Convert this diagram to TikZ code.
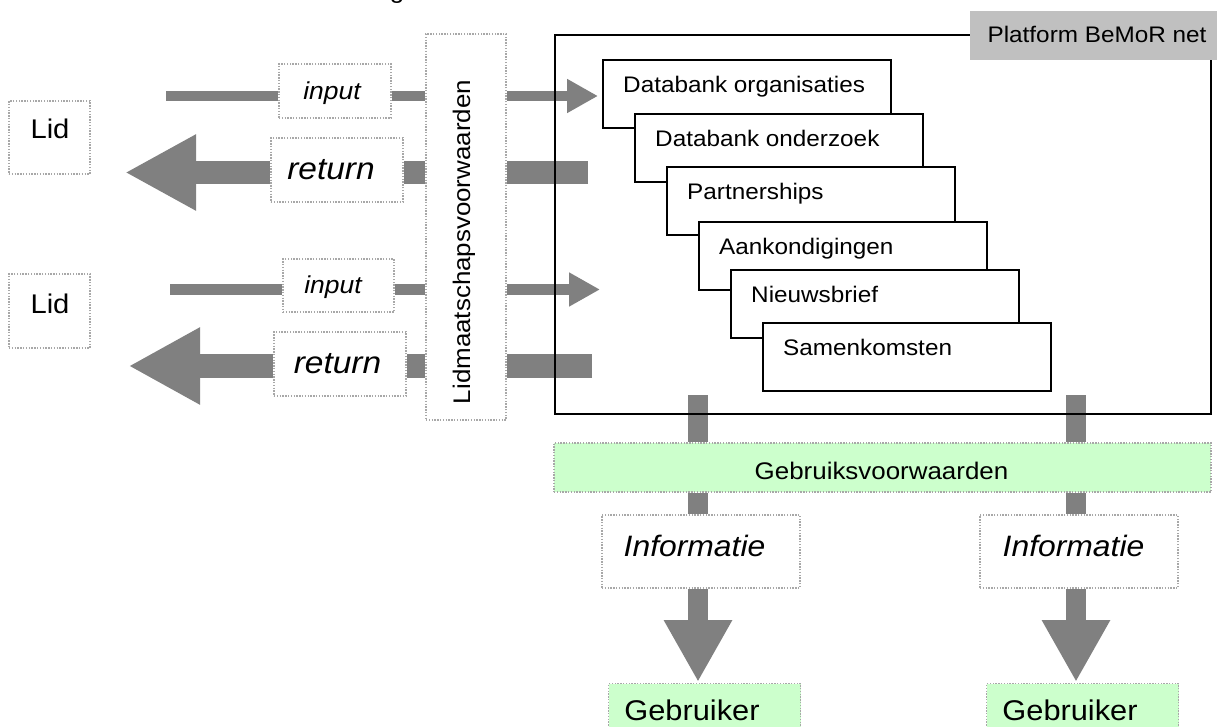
\documentclass[tikz,border=0pt]{standalone}
\usepackage{fontspec}
\setmainfont{Liberation Sans}[FakeStretch=1.08]
\usetikzlibrary{arrows.meta,calc}

\definecolor{flow}{HTML}{808080}
\definecolor{dotline}{HTML}{A8A8A8}
\definecolor{paleg}{HTML}{CCFFCC}
\definecolor{tagfill}{HTML}{C0C0C0}

\tikzset{
  dotbox/.style={draw=dotline, line width=1.4pt, dash pattern=on 1.4pt off 1.4pt,
                 fill=white, inner sep=0pt},
  greenbox/.style={dotbox, fill=paleg},
  module/.style={draw=black, line width=1.8pt, fill=white, inner sep=0pt,
                 minimum width=288pt, minimum height=68pt, anchor=north west},
  lbl/.style={inner sep=0pt, anchor=base},
  modlbl/.style={inner sep=0pt, anchor=base west, font=\fontsize{22.5}{26}\selectfont},
  thinflow/.style={draw=flow, line width=10.5pt},
  wideflow/.style={draw=flow, line width=23.5pt},
  downflow/.style={draw=flow, line width=20.5pt},
}

\begin{document}
\begin{tikzpicture}[x=1pt, y=-1pt]
\clip (0,0) rectangle (1217,727);
\fill[white] (0,0) rectangle (1217,727);

% clipped caption fragment at the top edge
\node[lbl, font=\fontsize{24}{28}\selectfont] (cap) at (397,-1) {g};

% members
\node[dotbox, minimum width=81pt, minimum height=73pt] (lid1) at (49.5,137.5) {};
\node[lbl, font=\fontsize{27}{32}\selectfont] (lid1t) at (50,139) {Lid};
\node[dotbox, minimum width=81pt, minimum height=74pt] (lid2) at (49.5,311) {};
\node[lbl, font=\fontsize{27}{32}\selectfont] (lid2t) at (50,313) {Lid};

% membership conditions
\node[dotbox, minimum width=80pt, minimum height=386pt] (lv) at (466,227) {};
\node[lbl, rotate=90, font=\fontsize{24}{28}\selectfont] (lvt) at (470,242) {Lidmaatschapsvoorwaarden};

% input / return label boxes
\node[dotbox, minimum width=112pt, minimum height=54pt] (in1) at (335,91) {};
\node[dotbox, minimum width=132pt, minimum height=64pt] (re1) at (337,170) {};
\node[dotbox, minimum width=111pt, minimum height=53pt] (in2) at (338.5,285.5) {};
\node[dotbox, minimum width=132pt, minimum height=64pt] (re2) at (340,364) {};

% flow end points
\coordinate (i1s) at (166,96);
\coordinate (r1s) at (588,172.5);
\coordinate (r1t) at (125,172.5);
\coordinate (i2s) at (170,289.5);
\coordinate (r2s) at (592,366);
\coordinate (r2t) at (128.5,366);
\coordinate (v1) at (698,395);
\coordinate (v2) at (1076,395);

% platform modules (positions needed by the flows)
\coordinate (m1) at (602,59);

% input flows
\draw[thinflow] (i1s) -- (i1s -| in1.west);
\draw[thinflow] (in1.east |- i1s) -- (lv.west |- i1s);
\draw[thinflow, -{Triangle[length=31pt,width=32pt]}] (lv.east |- i1s) -- ($(m1 |- i1s)+(-4,0)$);

\draw[thinflow] (i2s) -- (i2s -| in2.west);
\draw[thinflow] (in2.east |- i2s) -- (lv.west |- i2s);
\draw[thinflow, -{Triangle[length=31pt,width=32pt]}] (lv.east |- i2s) -- (600,289.5);

% return flows
\draw[wideflow] (r1s) -- (r1s -| lv.east);
\draw[wideflow] (lv.west |- r1s) -- (re1.east |- r1s);
\draw[wideflow, -{Triangle[length=71pt,width=71pt]}] (re1.west |- r1s) -- (r1t);

\draw[wideflow] (r2s) -- (r2s -| lv.east);
\draw[wideflow] (lv.west |- r2s) -- (re2.east |- r2s);
\draw[wideflow, -{Triangle[length=71.5pt,width=72pt]}] (re2.west |- r2s) -- (r2t);

% label texts over the flow boxes
\node[lbl, font=\fontsize{24.5}{29}\selectfont\itshape] (in1t) at (332,100) {input};
\node[lbl, font=\fontsize{31}{36}\selectfont\itshape] (re1t) at (331,180) {return};
\node[lbl, font=\fontsize{24.5}{29}\selectfont\itshape] (in2t) at (333,293) {input};
\node[lbl, font=\fontsize{31}{36}\selectfont\itshape] (re2t) at (337.5,373) {return};

% usage conditions, information and users
\node[greenbox, minimum width=657pt, minimum height=49pt] (gv) at (882.5,467.5) {};
\node[dotbox, minimum width=198pt, minimum height=73pt] (inf1) at (701,551.5) {};
\node[dotbox, minimum width=198pt, minimum height=73pt] (inf2) at (1079,551.5) {};
\node[greenbox, minimum width=192pt, minimum height=60pt, anchor=north west] (geb1) at (608,683) {};
\node[greenbox, minimum width=192pt, minimum height=60pt, anchor=north west] (geb2) at (986,683) {};

\draw[downflow] (v1) -- (v1 |- gv.north);
\draw[downflow] (v1 |- gv.south) -- (v1 |- inf1.north);
\draw[downflow, -{Triangle[length=62pt,width=64pt]}] (v1 |- inf1.south) -- ($(v1 |- geb1.north)+(0,-1)$);
\draw[downflow] (v2) -- (v2 |- gv.north);
\draw[downflow] (v2 |- gv.south) -- (v2 |- inf2.north);
\draw[downflow, -{Triangle[length=62pt,width=64pt]}] (v2 |- inf2.south) -- ($(v2 |- geb2.north)+(0,-1)$);

\node[lbl, font=\fontsize{24}{28}\selectfont] (gvt) at (881.5,479) {Gebruiksvoorwaarden};
\node[lbl, font=\fontsize{29.5}{34}\selectfont\itshape] (inf1t) at (694.5,556) {Informatie};
\node[lbl, font=\fontsize{29.5}{34}\selectfont\itshape] (inf2t) at (1073.5,556) {Informatie};
\node[lbl, font=\fontsize{28.5}{33}\selectfont] (geb1t) at (692,720) {Gebruiker};
\node[lbl, font=\fontsize{28.5}{33}\selectfont] (geb2t) at (1070,720) {Gebruiker};

% platform frame, drawn over the flows
\node[draw=black, line width=1.8pt, inner sep=0pt, minimum width=656pt, minimum height=379pt,
      anchor=north west] (pf) at (554,34) {};
\node[fill=tagfill, inner sep=0pt, minimum width=247pt, minimum height=49pt,
      anchor=north west] (tag) at (970,11) {};
\node[lbl, font=\fontsize{22.5}{26}\selectfont] (tagt) at (1097,43) {Platform BeMoR net};

% stacked modules
\node[module] (b1) at (m1) {};
\node[modlbl] at ($(b1.north west)+(21,33.5)$) {Databank organisaties};
\node[module] (b2) at (634,113) {};
\node[modlbl] at ($(b2.north west)+(21,33.5)$) {Databank onderzoek};
\node[module] (b3) at (666,166) {};
\node[modlbl] at ($(b3.north west)+(21,33.5)$) {Partnerships};
\node[module] (b4) at (698,221) {};
\node[modlbl] at ($(b4.north west)+(21,33.5)$) {Aankondigingen};
\node[module] (b5) at (730,269) {};
\node[modlbl] at ($(b5.north west)+(21,33.5)$) {Nieuwsbrief};
\node[module] (b6) at (762,322) {};
\node[modlbl] at ($(b6.north west)+(21,33.5)$) {Samenkomsten};
\end{tikzpicture}
\end{document}
